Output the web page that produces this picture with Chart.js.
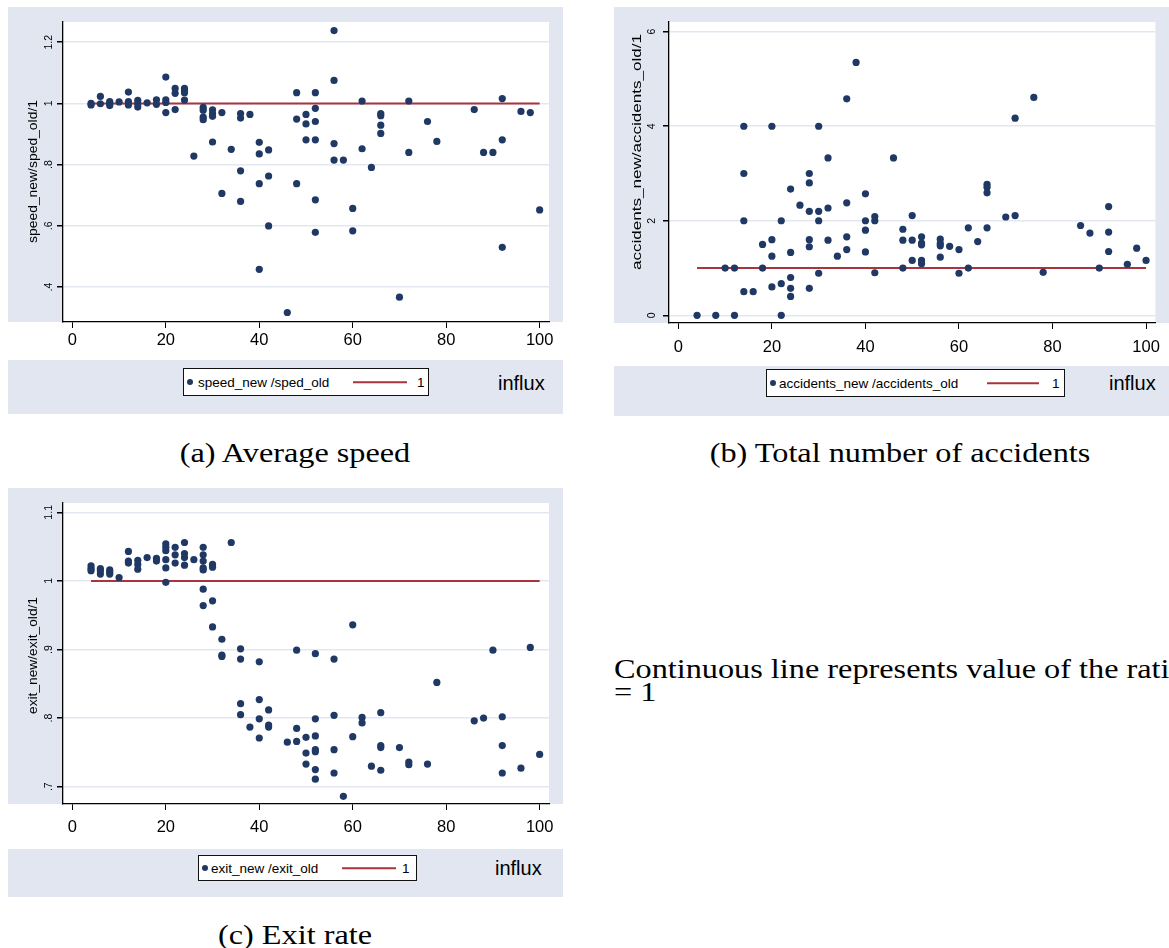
<!DOCTYPE html>
<html><head><meta charset="utf-8">
<script src="https://cdn.jsdelivr.net/npm/chart.js@4.4.1/dist/chart.umd.min.js"></script>
<style>
html,body{margin:0;padding:0;background:#fff;}
body{width:1169px;height:948px;overflow:hidden;position:relative;font-family:"Liberation Sans",Arial,Helvetica,sans-serif;}
.band{position:absolute;background:#e1e6f0;}
.legend{position:absolute;border:1px solid #111;background:#fff;box-sizing:border-box;font-size:13.5px;color:#000;}
.legend span{position:absolute;top:50%;transform:translateY(-50%);white-space:nowrap;}
.legend .dot{width:6px;height:6px;border-radius:50%;background:#1f3864;}
.legend .ln{height:1.5px;background:#a8343e;}
.influx{position:absolute;font-size:20px;color:#000;transform:translateY(-50%);white-space:nowrap;}
.cap{position:absolute;font-family:"Liberation Serif","Times New Roman",serif;font-size:27px;color:#000;white-space:nowrap;transform:translate(-50%,-50%) scaleX(1.195);}
.note{position:absolute;font-family:"Liberation Serif","Times New Roman",serif;font-size:27px;color:#000;white-space:nowrap;line-height:23px;transform:scaleX(1.195);transform-origin:left top;}
</style>
</head><body>
<script>
// ---------------- DATA ----------------
const xTicks = [0, 20, 40, 60, 80, 100];
const refInflux = [4, 100];
const refValue = [1, 1];

// (a) Average speed
const speedInflux = [
  4,4, 6,6, 8,8,8, 10, 12,12,12, 14,14,14, 16, 18,18, 20,20,20,20, 22,22,22, 24,24,24,24,
  26, 28,28,28,28, 30,30,30,30, 32,32, 34, 36,36,36,36, 38, 40,40,40,40, 42,42,42, 46,
  48,48,48, 50,50,50, 52,52,52,52,52,52, 56,56,56,56, 58, 60,60, 62,62, 64, 66,66,66,66,
  70, 72,72, 76, 78, 86, 88, 90, 92,92,92, 96, 98, 100
];
const speedRatio = [
  1.000,0.995, 1.023,0.999, 1.006,1.000,0.993, 1.005, 1.037,1.006,0.995, 1.010,0.999,0.988, 1.002, 1.012,0.997, 1.086,1.012,1.003,0.970, 1.049,1.033,0.980, 1.049,1.042,1.035,1.011,
  0.828, 0.987,0.978,0.955,0.947, 0.979,0.967,0.958,0.874, 0.970,0.706, 0.850, 0.967,0.952,0.780,0.680, 0.964, 0.873,0.835,0.738,0.458, 0.848,0.763,0.600, 0.317,
  1.035,0.949,0.738, 0.964,0.933,0.881, 1.035,0.984,0.941,0.881,0.685,0.579, 1.238,1.075,0.869,0.815, 0.815, 0.657,0.584, 1.008,0.852, 0.791, 0.967,0.960,0.929,0.902,
  0.367, 1.008,0.840, 0.941, 0.876, 0.980, 0.840, 0.840, 1.016,0.881,0.530, 0.974, 0.970, 0.652
];
const speedTicks = [0.4, 0.6, 0.8, 1, 1.2];
const speedTickLabels = [".4", ".6", ".8", "1", "1.2"];

// (b) Total number of accidents
const accInflux = [
  4, 8, 10, 12,12, 14,14,14,14, 16, 18,18, 20,20,20,20, 22,22,22, 24,24,24,24,24, 26,
  28,28,28,28,28,28, 30,30,30,30, 32,32,32, 34, 36,36,36,36, 38, 40,40,40,40, 42,42,42, 46,
  48,48,48, 50,50,50, 52,52,52,52,52, 56,56,56,56, 58, 60,60, 62,62, 64, 66,66,66,66,
  70, 72,72, 76, 78, 86, 88, 90, 92,92,92, 96, 98, 100
];
const accRatio = [
  0, 0, 1.0, 1.0,0, 4.0,3.0,2.0,0.5, 0.5, 1.5,1.0, 4.0,1.6,1.25,0.6, 2.0,0.67,0, 2.67,1.33,0.8,0.57,0.4, 2.33,
  3.0,2.8,2.2,1.6,1.45,0.57, 4.0,2.2,2.0,0.89, 3.33,2.27,1.59, 1.25, 4.58,2.38,1.66,1.39, 5.35, 2.57,2.0,1.8,1.34, 2.09,2.0,0.9, 3.33,
  1.82,1.59,1.0, 2.11,1.59,1.16, 1.66,1.53,1.49,1.16,1.09, 1.61,1.52,1.47,1.23, 1.46, 1.39,0.89, 1.85,1.0, 1.56, 2.77,2.71,2.59,1.85,
  2.08, 4.17,2.11, 4.61, 0.91, 1.9, 1.74, 1.0, 2.3,1.76,1.35, 1.08, 1.42, 1.16
];
const accTicks = [0, 2, 4, 6];
const accTickLabels = ["0", "2", "4", "6"];

// (c) Exit rate
const exitInflux = [
  4,4,4, 6,6,6, 8,8,8, 10, 12,12,12, 14,14,14, 16, 18,18, 20,20,20,20,20,20, 22,22,22, 24,24,24,24, 26,
  28,28,28,28,28,28,28, 30,30,30,30, 32,32,32, 34, 36,36,36,36, 38, 40,40,40,40, 42,42,42, 46,
  48,48,48, 50,50,50, 52,52,52,52,52,52,52, 56,56,56,56, 58, 60,60, 62,62, 64, 66,66,66,66,
  70, 72,72, 76, 78, 86, 88, 90, 92,92,92, 96, 98, 100
];
const exitRatio = [
  1.022,1.018,1.015, 1.018,1.015,1.010, 1.016,1.013,1.010, 1.005, 1.043,1.029,1.026, 1.030,1.024,1.017, 1.034, 1.033,1.029, 1.054,1.049,1.044,1.031,1.019,0.998, 1.049,1.038,1.026, 1.056,1.040,1.034,1.023, 1.031,
  1.049,1.038,1.029,1.019,1.016,0.988,0.964, 1.024,1.020,0.971,0.933, 0.915,0.892,0.890, 1.056, 0.901,0.886,0.821,0.805, 0.787, 0.882,0.827,0.799,0.771, 0.812,0.790,0.787, 0.765,
  0.899,0.785,0.766, 0.772,0.749,0.733, 0.894,0.799,0.774,0.754,0.751,0.725,0.711, 0.886,0.804,0.754,0.720, 0.686, 0.936,0.773, 0.801,0.793, 0.730, 0.808,0.760,0.757,0.724,
  0.757, 0.736,0.732, 0.733, 0.852, 0.796, 0.800, 0.899, 0.802,0.760,0.720, 0.727, 0.903, 0.747
];
const exitTicks = [0.7, 0.8, 0.9, 1, 1.1];
const exitTickLabels = [".7", ".8", ".9", "1", "1.1"];

// ---------------- STYLE ----------------
const FONT = '"Liberation Sans", Arial, Helvetica, sans-serif';
const BG = '#e1e6f0';
const GRID = '#e2e7f0';
const DOT = '#1f3864';
const RED = '#a8343e';

const panelBg = {
  id: 'panelBg',
  beforeDraw(chart, args, o) {
    const { ctx, chartArea: a, width } = chart;
    ctx.save();
    ctx.fillStyle = BG;
    ctx.fillRect(0, 0, width, a.bottom);
    ctx.fillStyle = '#fff';
    ctx.fillRect(a.left, a.top, a.right - a.left, a.bottom - a.top);
    ctx.restore();
  }
};

const yDecor = {
  id: 'yDecor',
  afterDraw(chart, args, o) {
    const ctx = chart.ctx, ys = chart.scales.y, a = chart.chartArea;
    ctx.save();
    ctx.fillStyle = '#000';
    ctx.font = o.tickSize + 'px ' + FONT;
    ctx.textAlign = 'center';
    ctx.textBaseline = 'middle';
    o.ticks.forEach((v, i) => {
      const py = ys.getPixelForValue(v);
      ctx.save();
      ctx.translate(a.left - o.tickOffset, py);
      ctx.rotate(-Math.PI / 2);
      ctx.fillText(o.labels[i], 0, 0);
      ctx.restore();
    });
    ctx.font = o.titleSize + 'px ' + FONT;
    const w = ctx.measureText(o.title).width;
    const sx = o.titleLen ? o.titleLen / w : 1;
    ctx.translate(a.left - o.titleOffset, o.titleCenter);
    ctx.rotate(-Math.PI / 2);
    ctx.scale(sx, 1);
    ctx.fillText(o.title, 0, 0);
    ctx.restore();
  }
};

function makePanel(cfg) {
  const wrap = document.createElement('div');
  wrap.style.cssText = `position:absolute;left:${cfg.left}px;top:${cfg.top}px;width:${cfg.w}px;height:${cfg.h}px;`;
  const cv = document.createElement('canvas');
  cv.width = cfg.w; cv.height = cfg.h;
  cv.style.width = cfg.w + 'px'; cv.style.height = cfg.h + 'px';
  wrap.appendChild(cv);
  document.body.appendChild(wrap);
  new Chart(cv, {
    type: 'scatter',
    data: {
      datasets: [
        {
          data: cfg.xs.map((x, i) => ({ x, y: cfg.ys[i] })),
          backgroundColor: DOT, borderWidth: 0, pointRadius: 3.6, pointHoverRadius: 3.6, order: 1
        },
        {
          data: refInflux.map((x, i) => ({ x, y: refValue[i] })),
          showLine: true, borderColor: RED, borderWidth: 2, pointRadius: 0, fill: false, order: 2
        }
      ]
    },
    options: {
      responsive: false, animation: false, devicePixelRatio: 1, events: [],
      layout: { padding: { top: 15, right: cfg.padRight, left: 0, bottom: 0 } },
      plugins: {
        legend: { display: false }, tooltip: { enabled: false },
        yDecor: cfg.yDecor
      },
      scales: {
        x: {
          type: 'linear', min: -2, max: 102,
          afterBuildTicks: s => { s.ticks = xTicks.map(v => ({ value: v })); },
          afterFit: s => { s.height = cfg.xHeight; },
          grid: { display: true, drawOnChartArea: false, drawTicks: true, tickLength: 6, color: '#000', tickColor: '#000', lineWidth: 1 },
          border: { display: true, color: '#000', width: 1.3 },
          ticks: { font: { family: FONT, size: 16.5 }, color: '#000', padding: cfg.xPad, maxRotation: 0, minRotation: 0, autoSkip: false }
        },
        y: {
          type: 'linear', min: cfg.ymin, max: cfg.ymax,
          afterBuildTicks: s => { s.ticks = cfg.yTicks.map(v => ({ value: v })); },
          afterFit: s => { s.width = 55; },
          grid: { display: true, drawOnChartArea: true, drawTicks: true, tickLength: 6, color: GRID, tickColor: '#000', lineWidth: 1.5 },
          border: { display: true, color: '#000', width: 1.3 },
          ticks: { display: false }
        }
      }
    },
    plugins: [panelBg, yDecor]
  });
}

makePanel({
  left: 8, top: 7, w: 555, h: 351, padRight: 14, xHeight: 36, xPad: 3,
  xs: speedInflux, ys: speedRatio, ymin: 0.286, ymax: 1.266, yTicks: speedTicks,
  yDecor: { ticks: speedTicks, labels: speedTickLabels, tickSize: 10.5, tickOffset: 14,
            title: 'speed_new/sped_old/1', titleSize: 13, titleOffset: 29.5, titleLen: 143, titleCenter: 164.5 }
});
makePanel({
  left: 614, top: 7, w: 555, h: 358, padRight: 9, xHeight: 42, xPad: 9,
  xs: accInflux, ys: accRatio, ymin: -0.163, ymax: 6.205, yTicks: accTicks,
  yDecor: { ticks: accTicks, labels: accTickLabels, tickSize: 10.5, tickOffset: 16.6,
            title: 'accidents_new/accidents_old/1', titleSize: 13, titleOffset: 31.6, titleLen: 236, titleCenter: 145 }
});
makePanel({
  left: 8, top: 488, w: 555, h: 358, padRight: 14, xHeight: 42, xPad: 8,
  xs: exitInflux, ys: exitRatio, ymin: 0.6748, ymax: 1.1136, yTicks: exitTicks,
  yDecor: { ticks: exitTicks, labels: exitTickLabels, tickSize: 10.5, tickOffset: 14,
            title: 'exit_new/exit_old/1', titleSize: 13, titleOffset: 29.5, titleLen: 117, titleCenter: 167.5 }
});

// ---------------- LEGEND BANDS / TEXT ----------------
function addBand(b) {
  const band = document.createElement('div');
  band.className = 'band';
  band.style.cssText = `left:${b.left}px;top:${b.top}px;width:${b.w}px;height:${b.h}px;`;
  document.body.appendChild(band);
  const lg = document.createElement('div');
  lg.className = 'legend';
  lg.style.cssText = `left:${b.lg[0]}px;top:${b.lg[1]}px;width:${b.lg[2]}px;height:${b.lg[3]}px;`;
  lg.innerHTML =
    `<span class="dot" style="left:3px"></span>` +
    `<span style="left:${b.txtX}px">${b.label}</span>` +
    `<span class="ln" style="left:${b.lnX}px;width:${b.lnW}px"></span>` +
    `<span style="left:${b.oneX}px">1</span>`;
  document.body.appendChild(lg);
  const inf = document.createElement('div');
  inf.className = 'influx';
  inf.textContent = 'influx';
  inf.style.left = b.infX + 'px'; inf.style.top = b.infY + 'px';
  document.body.appendChild(inf);
}
addBand({ left: 8, top: 360, w: 555, h: 54, lg: [183, 368, 246, 28], txtX: 14, lnX: 169, lnW: 54, oneX: 233, label: 'speed_new /sped_old', infX: 498, infY: 383 });
addBand({ left: 614, top: 366, w: 555, h: 50, lg: [766, 369, 299, 28], txtX: 12, lnX: 220, lnW: 52, oneX: 285, label: 'accidents_new /accidents_old', infX: 1109, infY: 383 });
addBand({ left: 8, top: 849, w: 555, h: 48, lg: [198, 855, 219, 26], txtX: 12, lnX: 143, lnW: 54, oneX: 203, label: 'exit_new /exit_old', infX: 495, infY: 868 });

function addText(cls, txt, x, y) {
  const d = document.createElement('div');
  d.className = cls; d.innerHTML = txt;
  d.style.left = x + 'px'; d.style.top = y + 'px';
  document.body.appendChild(d);
}
addText('cap', '(a) Average speed', 295, 453);
addText('cap', '(b) Total number of accidents', 900, 453);
addText('cap', '(c) Exit rate', 295, 935);
addText('note', 'Continuous line represents value of the ratio<br>= 1', 614, 658);
</script>
</body></html>
